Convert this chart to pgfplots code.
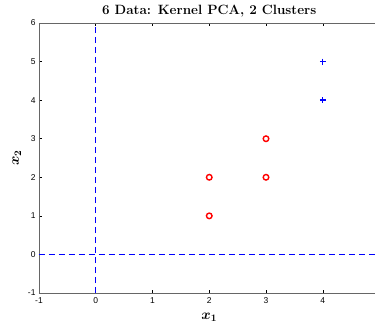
\documentclass[border=0pt]{standalone}
\usepackage{amsmath}
\usepackage{fontspec}
\newfontfamily\helv{Liberation Sans}
\usepackage{pgfplots}
\pgfplotsset{compat=1.18}
\definecolor{mblue}{rgb}{0,0,1}
\definecolor{mred}{rgb}{1,0,0}
\begin{document}
\begin{tikzpicture}
\useasboundingbox (-39bp,-37bp) rectangle (336bp,293bp);
\begin{axis}[
  scale only axis,
  width=340.5bp, height=270bp,
  xmin=-1, xmax=5, ymin=-1, ymax=6,
  xtick={-1,0,1,2,3,4}, ytick={-1,0,1,2,3,4,5,6},
  xticklabels={-1,0,1,2,3,4},
  yticklabels={-1,0,1,2,3,4,5,6},
  ytick pos=left,
  tick align=inside,
  axis line style={color=black!60, line width=0.7bp},
  tick style={color=black, line width=0.5bp},
  major tick length=3bp,
  x tick label style={font=\helv\fontsize{8.5}{10}\selectfont, yshift=-1bp},
  y tick label style={font=\helv\fontsize{8.5}{10}\selectfont},
  title={\textbf{6 Data\char58{} Kernel PCA\char44{} 2 Clusters}},
  title style={font=\fontsize{13.5}{15}\selectfont, yshift=-4bp},
  xlabel={$\boldsymbol{x_1}$},
  ylabel={$\boldsymbol{x_2}$},
  xlabel style={font=\fontsize{14}{16}\selectfont, yshift=-3bp},
  ylabel style={font=\fontsize{14}{16}\selectfont, yshift=0bp},
]
\addplot[draw=none, forget plot] coordinates {(-1,-1) (-1,-1)};
\addplot[color=mblue, draw=mblue, dash pattern=on 6bp off 4bp, line width=0.8bp] coordinates {(0,-1) (0,6)};
\addplot[color=mblue, draw=mblue, dash pattern=on 6bp off 4bp, line width=0.8bp] coordinates {(-1,0) (5,0)};
\addplot[color=mred, draw=mred, only marks, mark=o, mark size=2.8bp, line width=1.4bp] coordinates {(2,1) (2,2) (3,2) (3,3)};
\addplot[color=mblue, draw=mblue, only marks, mark=+, mark size=3bp, line width=1.4bp] coordinates {(4,4) (4,5)};
\end{axis}
\end{tikzpicture}
\end{document}
